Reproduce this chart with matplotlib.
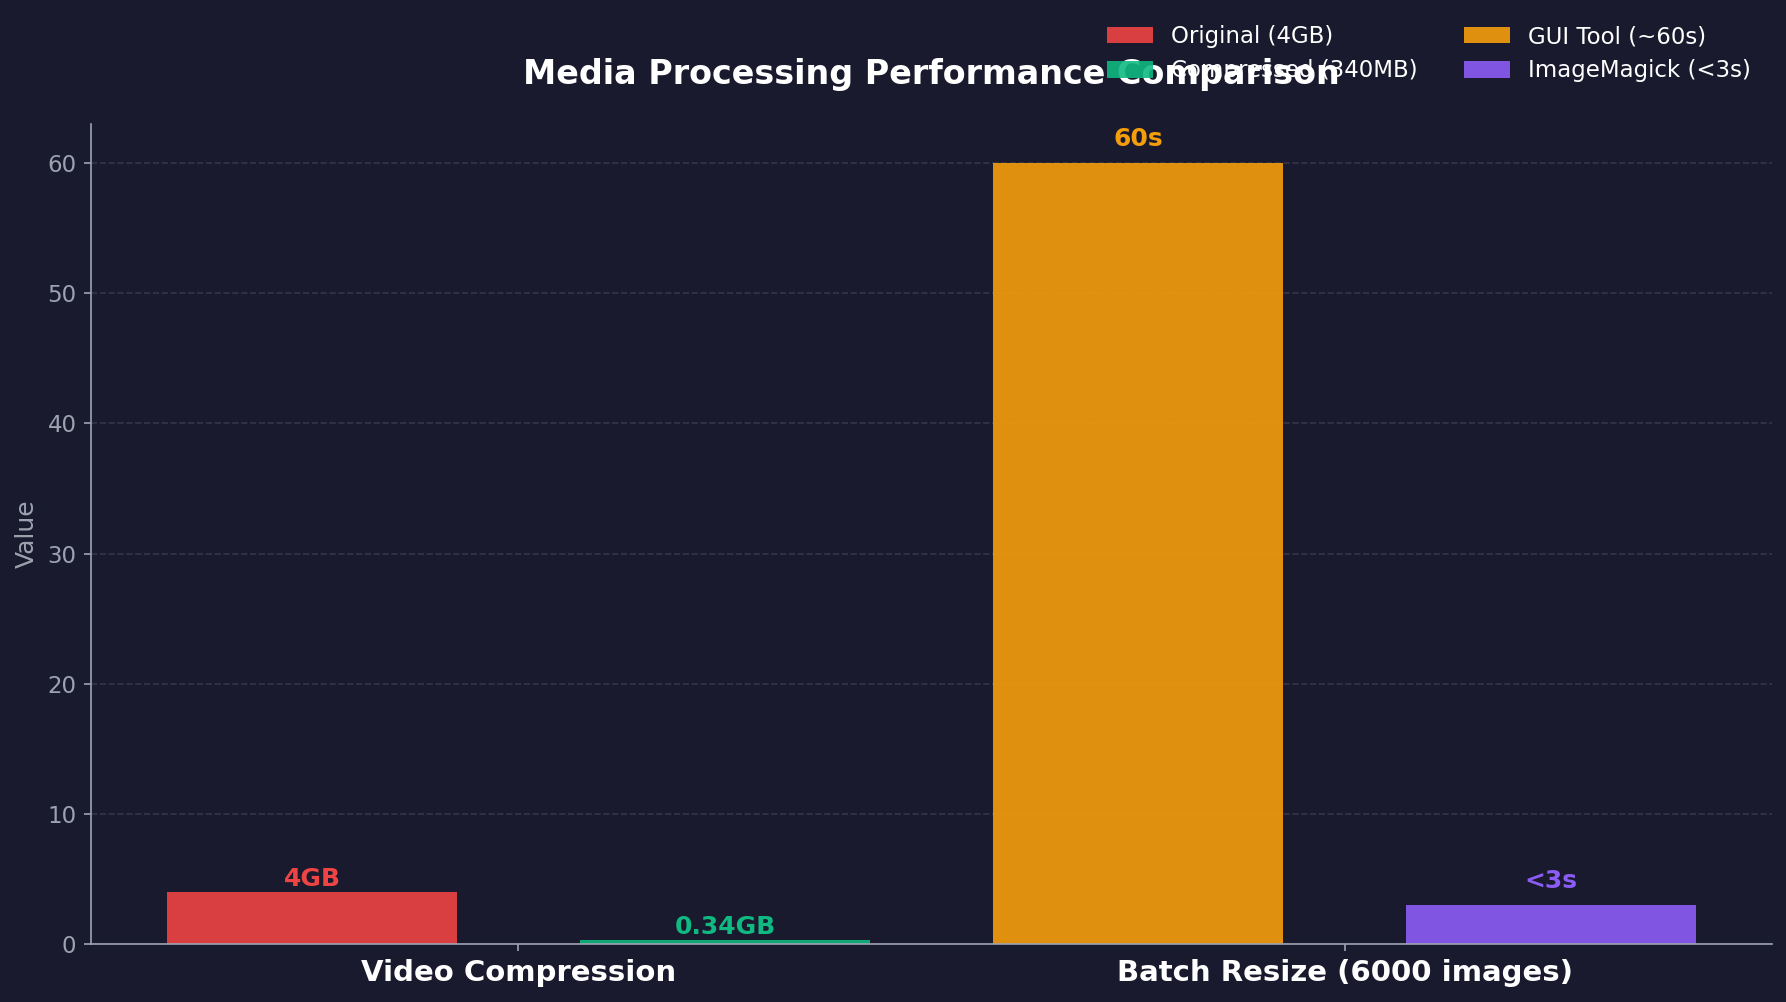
import matplotlib
matplotlib.use("Agg")
import matplotlib.pyplot as plt
import numpy as np

# data
categories = ["Video Compression", "Batch Resize (6000 images)"]
left_labels = ["Original (4GB)", "GUI Tool (~60s)"]
right_labels = ["Compressed (340MB)", "ImageMagick (<3s)"]
left_values = [4, 60]
right_values = [0.34, 3]
left_text = ["4GB", "60s"]
right_text = ["0.34GB", "<3s"]
left_colors = ["#ef4444", "#f59e0b"]
right_colors = ["#10b981", "#8b5cf6"]

bg = "#1a1a2e"
grey = "#9ca3af"

fig = plt.figure(figsize=(1786 / 150, 1002 / 150), dpi=150, facecolor=bg)
ax = fig.add_axes([91 / 1786, 58 / 1002, (1772 - 91) / 1786, (944 - 124) / 1002])
ax.set_facecolor(bg)

x = np.arange(len(categories))
w = 0.35
handles = {}
for i in range(len(categories)):
    b1 = ax.bar(x[i] - 0.25, left_values[i], w, color=left_colors[i], alpha=0.9, label=left_labels[i])
    b2 = ax.bar(x[i] + 0.25, right_values[i], w, color=right_colors[i], alpha=0.9, label=right_labels[i])
    handles[left_labels[i]] = b1
    handles[right_labels[i]] = b2
    off = 0.015 * max(left_values[i], right_values[i])
    ax.text(x[i] - 0.25, left_values[i] + off, left_text[i], ha="center", va="bottom",
            color=left_colors[i], fontsize=12, fontweight="bold")
    ax.text(x[i] + 0.25, right_values[i] + off, right_text[i], ha="center", va="bottom",
            color=right_colors[i], fontsize=12, fontweight="bold")

ax.set_xticks(x)
ax.set_xticklabels(categories, fontsize=14, fontweight="bold", color="white")
ax.tick_params(axis="y", colors=grey, labelsize=11)
ax.tick_params(axis="x", colors=grey)
for t in ax.get_xticklabels():
    t.set_color("white")
ax.set_ylabel("Value", color=grey, fontsize=12)
ax.set_title("Media Processing Performance Comparison", color="white", fontsize=16,
             fontweight="bold", pad=19)

for s in ["top", "right"]:
    ax.spines[s].set_visible(False)
for s in ["left", "bottom"]:
    ax.spines[s].set_color(grey)
ax.yaxis.grid(True, linestyle="--", color=grey, alpha=0.2, linewidth=0.8)
ax.set_axisbelow(True)

# legend sits above the axes and overlaps the title, as in the original
order = [left_labels[0], right_labels[0], left_labels[1], right_labels[1]]
leg = ax.legend([handles[k] for k in order], order, ncol=2, loc="upper right",
                bbox_to_anchor=(1767 / 1786, 1 - 9 / 1002), bbox_transform=fig.transFigure,
                frameon=False, fontsize=11, labelcolor="white",
                borderaxespad=0.3)

fig.savefig("out.png", dpi=150, facecolor=bg)
